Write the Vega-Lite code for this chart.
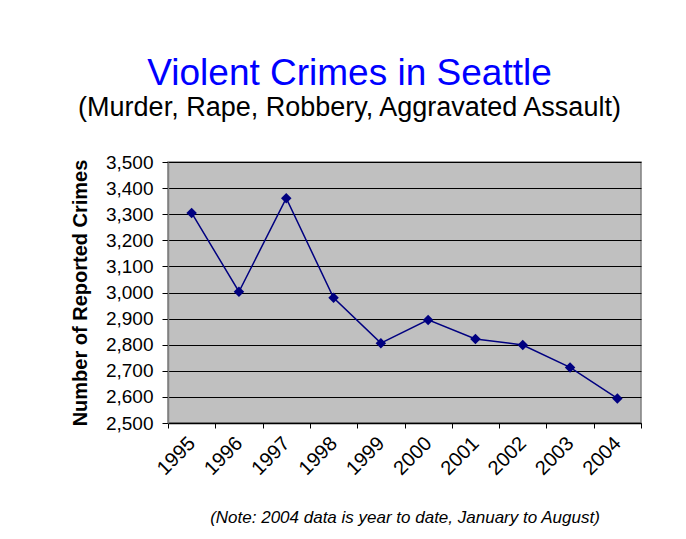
{
  "$schema": "https://vega.github.io/schema/vega-lite/v6.json",
  "width": 473,
  "height": 261,
  "autosize": {"type": "none"},
  "padding": {"left": 168, "top": 162, "right": 45, "bottom": 116},
  "background": "white",
  "title": {
    "text": "Violent Crimes in Seattle",
    "subtitle": "(Murder, Rape, Robbery, Aggravated Assault)",
    "frame": "group",
    "anchor": "middle",
    "dx": -55,
    "offset": 31,
    "font": "Liberation Sans",
    "fontSize": 37,
    "fontWeight": "normal",
    "color": "#0000FF",
    "subtitleFont": "Liberation Sans",
    "subtitleFontSize": 27,
    "subtitleColor": "#000000",
    "subtitlePadding": 2
  },
  "data": {
    "values": [
      {"year": "1995", "crimes": 3305},
      {"year": "1996", "crimes": 3003},
      {"year": "1997", "crimes": 3361},
      {"year": "1998", "crimes": 2980},
      {"year": "1999", "crimes": 2806},
      {"year": "2000", "crimes": 2895},
      {"year": "2001", "crimes": 2822},
      {"year": "2002", "crimes": 2799},
      {"year": "2003", "crimes": 2713},
      {"year": "2004", "crimes": 2594}
    ]
  },
  "mark": {
    "type": "line",
    "color": "#000080",
    "strokeWidth": 1.5,
    "point": {"shape": "diamond", "size": 110, "filled": true, "color": "#000080", "opacity": 1}
  },
  "encoding": {
    "x": {
      "field": "year",
      "type": "ordinal",
      "scale": {"type": "band", "paddingInner": 0, "paddingOuter": 0},
      "axis": {
        "title": "(Note: 2004 data is year to date, January to August)",
        "titleFont": "Liberation Sans",
        "titleFontStyle": "italic",
        "titleFontWeight": "normal",
        "titleFontSize": 17,
        "titleColor": "#000000",
        "titlePadding": 31,
        "labelAngle": -45,
        "labelAlign": "right",
        "labelBaseline": "middle",
        "labelFont": "Liberation Sans",
        "labelFontSize": 20,
        "labelColor": "#000000",
        "labelPadding": 12,
        "tickBand": "extent",
        "tickColor": "#000000",
        "tickSize": 5,
        "domainColor": "#000000",
        "grid": false
      }
    },
    "y": {
      "field": "crimes",
      "type": "quantitative",
      "scale": {"domain": [2500, 3500], "nice": false, "zero": false},
      "axis": {
        "title": "Number of Reported Crimes",
        "titleFont": "Liberation Sans",
        "titleFontSize": 20,
        "titleFontWeight": "bold",
        "titleColor": "#000000",
        "titlePadding": 15,
        "values": [2500, 2600, 2700, 2800, 2900, 3000, 3100, 3200, 3300, 3400, 3500],
        "format": ",.0f",
        "labelFont": "Liberation Sans",
        "labelFontSize": 19,
        "labelColor": "#000000",
        "labelPadding": 9,
        "tickSize": 6,
        "tickColor": "#000000",
        "domainColor": "#808080",
        "grid": true,
        "gridColor": "#000000",
        "gridOpacity": 1,
        "gridWidth": 1
      }
    }
  },
  "config": {
    "view": {"fill": "#C0C0C0", "stroke": "#808080", "strokeWidth": 1.5},
    "axis": {"domainWidth": 1.5}
  }
}
